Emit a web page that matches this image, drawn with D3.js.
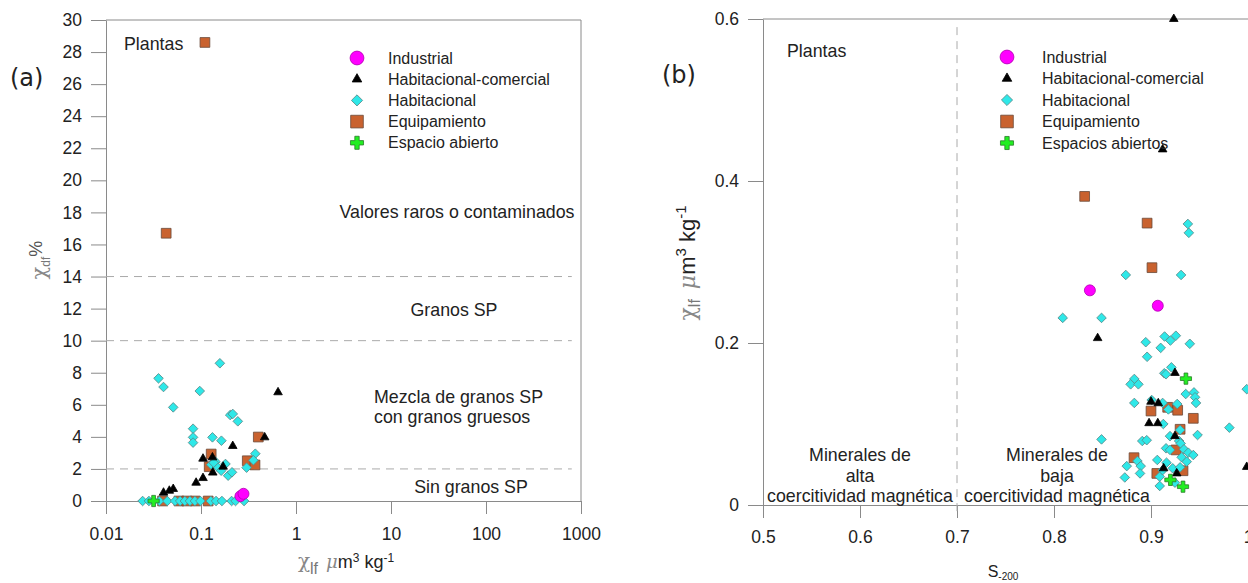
<!DOCTYPE html>
<html>
<head>
<meta charset="utf-8">
<script src="https://cdn.jsdelivr.net/npm/d3@7"></script>
<style>
  body { margin: 0; background: #fff; }
  text { font-family: "Liberation Sans", Arial, sans-serif; fill: #222; }
</style>
</head>
<body>
<div id="chart"></div>
<script>
// ---- panel (a): chi_lf (log) vs chi_df % ----
const ticksA_x = [0.01, 0.1, 1, 10, 100, 1000];
const ticksA_y = [0, 2, 4, 6, 8, 10, 12, 14, 16, 18, 20, 22, 24, 26, 28, 30];
const limitsA = [2, 10, 14];

const aIndustrial = [[0.26, 0.3], [0.28, 0.45]];
const aHabCom = [[0.0403, 0.52], [0.0464, 0.64], [0.051, 0.75], [0.0888, 1.14], [0.105, 1.43],
  [0.105, 2.64], [0.132, 2.72], [0.133, 1.77], [0.171, 2.14], [0.216, 3.43], [0.468, 3.97], [0.647, 6.78]];
const aHab = [[0.0357, 7.65], [0.0403, 7.11], [0.051, 5.84], [0.158, 8.59], [0.097, 6.86],
  [0.0825, 4.51], [0.0825, 3.97], [0.0825, 3.64], [0.132, 3.97], [0.164, 3.76], [0.203, 5.36],
  [0.216, 5.43], [0.244, 4.97], [0.373, 2.95], [0.356, 2.54], [0.302, 2.08], [0.128, 2.26],
  [0.142, 2.45], [0.148, 2.14], [0.163, 1.89], [0.181, 2.31], [0.193, 1.58], [0.212, 1.79],
  [0.136, 2.39],
  [0.0243, 0], [0.0283, 0], [0.0365, 0], [0.0442, 0], [0.0533, 0], [0.0603, 0], [0.0676, 0],
  [0.0765, 0], [0.0863, 0], [0.0985, 0], [0.127, 0], [0.144, 0], [0.166, 0], [0.21, 0],
  [0.231, 0], [0.284, 0]];
const aEquip = [[0.11, 28.6], [0.043, 16.7], [0.401, 3.99], [0.128, 2.93], [0.122, 2.14],
  [0.307, 2.51], [0.37, 2.25], [0.0394, 0], [0.0586, 0], [0.0709, 0], [0.087, 0], [0.119, 0]];
const aOpen = [[0.0317, 0]];

// ---- panel (b): S-200 vs chi_lf ----
const ticksB_x = [0.5, 0.6, 0.7, 0.8, 0.9, 1];
const ticksB_y = [0, 0.2, 0.4, 0.6];

const bIndustrial = [[0.837, 0.265], [0.907, 0.246]];
const bHabCom = [[0.9235, 0.6], [0.912, 0.439], [0.845, 0.206], [0.9247, 0.163], [0.9, 0.1275],
  [0.9075, 0.1256], [0.898, 0.101], [0.907, 0.101], [0.9247, 0.085], [0.913, 0.0453],
  [0.9265, 0.039], [0.9987, 0.047]];
const bHab = [[0.938, 0.347], [0.939, 0.336], [0.874, 0.284], [0.931, 0.284], [0.809, 0.231],
  [0.849, 0.231], [0.8946, 0.201], [0.914, 0.208], [0.92, 0.203], [0.9256, 0.209], [0.94, 0.199],
  [0.91, 0.194], [0.896, 0.183], [0.921, 0.17], [0.9137, 0.1626], [0.9155, 0.1614],
  [0.8828, 0.1556], [0.879, 0.149], [0.887, 0.149], [0.8828, 0.126], [0.9007, 0.1296],
  [0.912, 0.126], [0.9179, 0.118], [0.927, 0.1247], [0.9358, 0.137], [0.9443, 0.139],
  [0.9454, 0.133], [0.9464, 0.126], [0.9127, 0.1], [0.9808, 0.0955], [0.948, 0.0864],
  [0.93, 0.0926], [0.9196, 0.085], [0.929, 0.079], [0.9306, 0.076], [0.891, 0.079],
  [0.8956, 0.08], [0.849, 0.081], [0.9155, 0.07], [0.9196, 0.068], [0.934, 0.0688],
  [0.9385, 0.0646], [0.9436, 0.0617], [0.9316, 0.0589], [0.9368, 0.0535], [0.886, 0.0543],
  [0.8894, 0.048], [0.875, 0.048], [0.8887, 0.039], [0.873, 0.034], [0.9065, 0.0556],
  [0.916, 0.0522], [0.9224, 0.0453], [0.93, 0.0465], [0.909, 0.035], [0.912, 0.043],
  [0.9247, 0.0276], [0.909, 0.0235], [0.9987, 0.143]];
const bEquip = [[0.8316, 0.381], [0.896, 0.348], [0.901, 0.293], [0.9, 0.116], [0.9172, 0.1206],
  [0.9275, 0.117], [0.9436, 0.107], [0.93, 0.0935], [0.9258, 0.068], [0.8825, 0.0584],
  [0.906, 0.039], [0.933, 0.0423]];
const bOpen = [[0.936, 0.156], [0.92, 0.031], [0.933, 0.0226]];

const legendA = ["Industrial", "Habitacional-comercial", "Habitacional", "Equipamiento", "Espacio abierto"];
const legendB = ["Industrial", "Habitacional-comercial", "Habitacional", "Equipamiento", "Espacios abiertos"];

const W = 1248, H = 583;
const svg = d3.select("#chart").append("svg").attr("width", W).attr("height", H);

// marker styles per category (same order as legend)
const styles = [
  {type: d3.symbolCircle, fill: "#ff00ff", stroke: "#b000b0", size: 95, legSize: 150},
  {type: d3.symbolTriangle, fill: "#000", stroke: "#000", size: 32, legSize: 40},
  {type: d3.symbolSquare, fill: "#2ee8e8", stroke: "#5a8a8a", size: 46, legSize: 62, rot: 45},
  {type: d3.symbolSquare, fill: "#c9622f", stroke: "#6a4a3a", size: 95, legSize: 160},
  {type: d3.symbolCross, fill: "#22ee22", stroke: "#2a7a2a", size: 70, legSize: 95}
];

function drawPoints(g, data, st, x, y) {
  g.selectAll(null).data(data).enter().append("path")
    .attr("d", d3.symbol().type(st.type).size(st.size))
    .attr("transform", d => `translate(${x(d[0])},${y(d[1])})` + (st.rot ? ` rotate(${st.rot})` : ""))
    .attr("fill", st.fill)
    .attr("stroke", st.stroke)
    .attr("stroke-width", 0.8);
}

function drawLegend(g, labels, x0, y0, dy, tx) {
  labels.forEach((lab, i) => {
    const st = styles[i];
    g.append("path")
      .attr("d", d3.symbol().type(st.type).size(st.legSize))
      .attr("transform", `translate(${x0},${y0 + i * dy})` + (st.rot ? ` rotate(${st.rot})` : ""))
      .attr("fill", st.fill)
      .attr("stroke", st.stroke)
      .attr("stroke-width", 0.8);
    g.append("text")
      .attr("x", tx).attr("y", y0 + i * dy)
      .attr("dy", "0.35em")
      .style("font-size", "16px")
      .text(lab);
  });
}

function styleAxis(g) {
  g.selectAll(".domain").attr("stroke", "#8a8a8a");
  g.selectAll(".tick line").attr("stroke", "#8a8a8a");
  g.selectAll(".tick text").style("font-size", "17.5px").attr("fill", "#222")
    .style("font-family", "'Liberation Sans', Arial, sans-serif");
}

// ================= panel (a) =================
const xA = d3.scaleLog().domain([0.01, 1000]).range([106, 581]);
const yA = d3.scaleLinear().domain([0, 30]).range([501, 20]);
const gA = svg.append("g");

// frame
gA.append("line").attr("x1", xA(0.01)).attr("x2", xA(1000)).attr("y1", yA(30)).attr("y2", yA(30)).attr("stroke", "#8a8a8a");
gA.append("line").attr("x1", xA(1000)).attr("x2", xA(1000)).attr("y1", yA(30)).attr("y2", yA(0)).attr("stroke", "#8a8a8a");

const axA_y = gA.append("g").attr("transform", `translate(${xA(0.01)},0)`)
  .call(d3.axisLeft(yA).tickValues(ticksA_y).tickSize(15).tickSizeOuter(0).tickPadding(9));
styleAxis(axA_y);
const axA_x = gA.append("g").attr("transform", `translate(0,${yA(0)})`)
  .call(d3.axisBottom(xA).tickValues(ticksA_x).tickFormat(d => String(d)).tickSize(13).tickSizeOuter(0).tickPadding(14));
styleAxis(axA_x);

// limits
limitsA.forEach(v => {
  gA.append("line").attr("x1", xA(0.01)).attr("x2", xA(800)).attr("y1", yA(v)).attr("y2", yA(v))
    .attr("stroke", "#aaa").attr("stroke-dasharray", "8,6");
});

drawPoints(gA, aEquip, styles[3], xA, yA);
drawPoints(gA, aHab, styles[2], xA, yA);
drawPoints(gA, aHabCom, styles[1], xA, yA);
drawPoints(gA, aOpen, styles[4], xA, yA);
drawPoints(gA, aIndustrial, styles[0], xA, yA);

drawLegend(gA, legendA, 357, 58, 21.2, 388);

const annA = [
  ["Plantas", 124, 44, "start"],
  ["Valores raros o contaminados", 457, 212, "middle"],
  ["Granos SP", 454, 310, "middle"],
  ["Mezcla de granos SP", 374, 397, "start"],
  ["con granos gruesos", 374, 417, "start"],
  ["Sin granos SP", 471, 487, "middle"]
];
annA.forEach(a => {
  gA.append("text").attr("x", a[1]).attr("y", a[2]).attr("dy", "0.35em")
    .attr("text-anchor", a[3]).style("font-size", "17.8px").text(a[0]);
});

gA.append("text").attr("x", 10).attr("y", 78).attr("dy", "0.35em")
  .style("font-family", "'DejaVu Sans', sans-serif").style("font-size", "24px").text("(a)");

// axis titles (a)
const xtA = gA.append("text").attr("x", 346).attr("y", 568).attr("text-anchor", "middle").style("font-size", "18px");
xtA.append("tspan").attr("fill", "#888").style("font-family", "'DejaVu Serif', serif").style("font-size", "20px").text("χ");
xtA.append("tspan").attr("fill", "#777").attr("dy", 6).style("font-size", "16px").text("lf");
xtA.append("tspan").attr("dy", -6).attr("dx", 8).attr("fill", "#888").style("font-style", "italic")
  .style("font-family", "'DejaVu Serif', serif").text("μ");
xtA.append("tspan").attr("fill", "#222").text("m");
xtA.append("tspan").attr("fill", "#222").attr("dy", -6).style("font-size", "12px").text("3");
xtA.append("tspan").attr("fill", "#222").attr("dy", 6).text(" kg");
xtA.append("tspan").attr("fill", "#222").attr("dy", -6).style("font-size", "12px").text("-1");

const ytA = gA.append("text").attr("transform", "translate(46,260) rotate(-90)")
  .attr("text-anchor", "middle").style("font-size", "18px");
ytA.append("tspan").attr("fill", "#888").style("font-family", "'DejaVu Serif', serif").style("font-size", "21px").text("χ");
ytA.append("tspan").attr("fill", "#777").attr("dy", 4).style("font-size", "12px").text("df");
ytA.append("tspan").attr("fill", "#555").attr("dy", -8).text("%");

// ================= panel (b) =================
const xB = d3.scaleLinear().domain([0.5, 1]).range([763, 1248]);
const yB = d3.scaleLinear().domain([0, 0.6]).range([505, 19]);
const gB = svg.append("g");

gB.append("line").attr("x1", xB(0.5)).attr("x2", W).attr("y1", yB(0.6)).attr("y2", yB(0.6)).attr("stroke", "#8a8a8a");

const axB_y = gB.append("g").attr("transform", `translate(${xB(0.5)},0)`)
  .call(d3.axisLeft(yB).tickValues(ticksB_y).tickFormat(d => String(d)).tickSize(15).tickSizeOuter(0).tickPadding(9));
styleAxis(axB_y);
const axB_x = gB.append("g").attr("transform", `translate(0,${yB(0)})`)
  .call(d3.axisBottom(xB).tickValues(ticksB_x).tickFormat(d => String(d)).tickSize(13).tickSizeOuter(0).tickPadding(13));
styleAxis(axB_x);
axB_x.select(".domain").attr("d", `M${xB(0.5) - 15},0.5H${W}`);

gB.append("line").attr("x1", xB(0.7)).attr("x2", xB(0.7)).attr("y1", yB(0.59)).attr("y2", yB(0) + 12)
  .attr("stroke", "#aaa").attr("stroke-dasharray", "8,6");

drawPoints(gB, bEquip, styles[3], xB, yB);
drawPoints(gB, bHab, styles[2], xB, yB);
drawPoints(gB, bHabCom, styles[1], xB, yB);
drawPoints(gB, bOpen, styles[4], xB, yB);
drawPoints(gB, bIndustrial, styles[0], xB, yB);

drawLegend(gB, legendB, 1007, 57, 21.5, 1042);

const annB = [
  ["Plantas", 787, 51, "start"],
  ["Minerales de", 860, 455, "middle"],
  ["alta", 860, 476, "middle"],
  ["coercitividad magnética", 860, 496, "middle"],
  ["Minerales de", 1057, 455, "middle"],
  ["baja", 1057, 476, "middle"],
  ["coercitividad magnética", 1057, 496, "middle"]
];
annB.forEach(a => {
  gB.append("text").attr("x", a[1]).attr("y", a[2]).attr("dy", "0.35em")
    .attr("text-anchor", a[3]).style("font-size", "17.8px").text(a[0]);
});

gB.append("text").attr("x", 662).attr("y", 75).attr("dy", "0.35em")
  .style("font-family", "'DejaVu Sans', sans-serif").style("font-size", "24px").text("(b)");

const xtB = gB.append("text").attr("x", 1003).attr("y", 577).attr("text-anchor", "middle").style("font-size", "16px");
xtB.append("tspan").text("S");
xtB.append("tspan").attr("dy", 3).style("font-size", "10px").text("-200");

const ytB = gB.append("text").attr("transform", "translate(695,263) rotate(-90)")
  .attr("text-anchor", "middle").style("font-size", "22px");
ytB.append("tspan").attr("fill", "#888").style("font-family", "'DejaVu Serif', serif").style("font-size", "22px").text("χ");
ytB.append("tspan").attr("fill", "#777").attr("dy", 5).style("font-size", "16px").text("lf");
ytB.append("tspan").attr("dy", -5).attr("dx", 10).attr("fill", "#888").style("font-style", "italic")
  .style("font-family", "'DejaVu Serif', serif").text("μ");
ytB.append("tspan").text("m");
ytB.append("tspan").attr("dy", -9).style("font-size", "15px").text("3");
ytB.append("tspan").attr("dy", 9).text(" kg");
ytB.append("tspan").attr("dy", -9).style("font-size", "15px").text("-1");
</script>
</body>
</html>
